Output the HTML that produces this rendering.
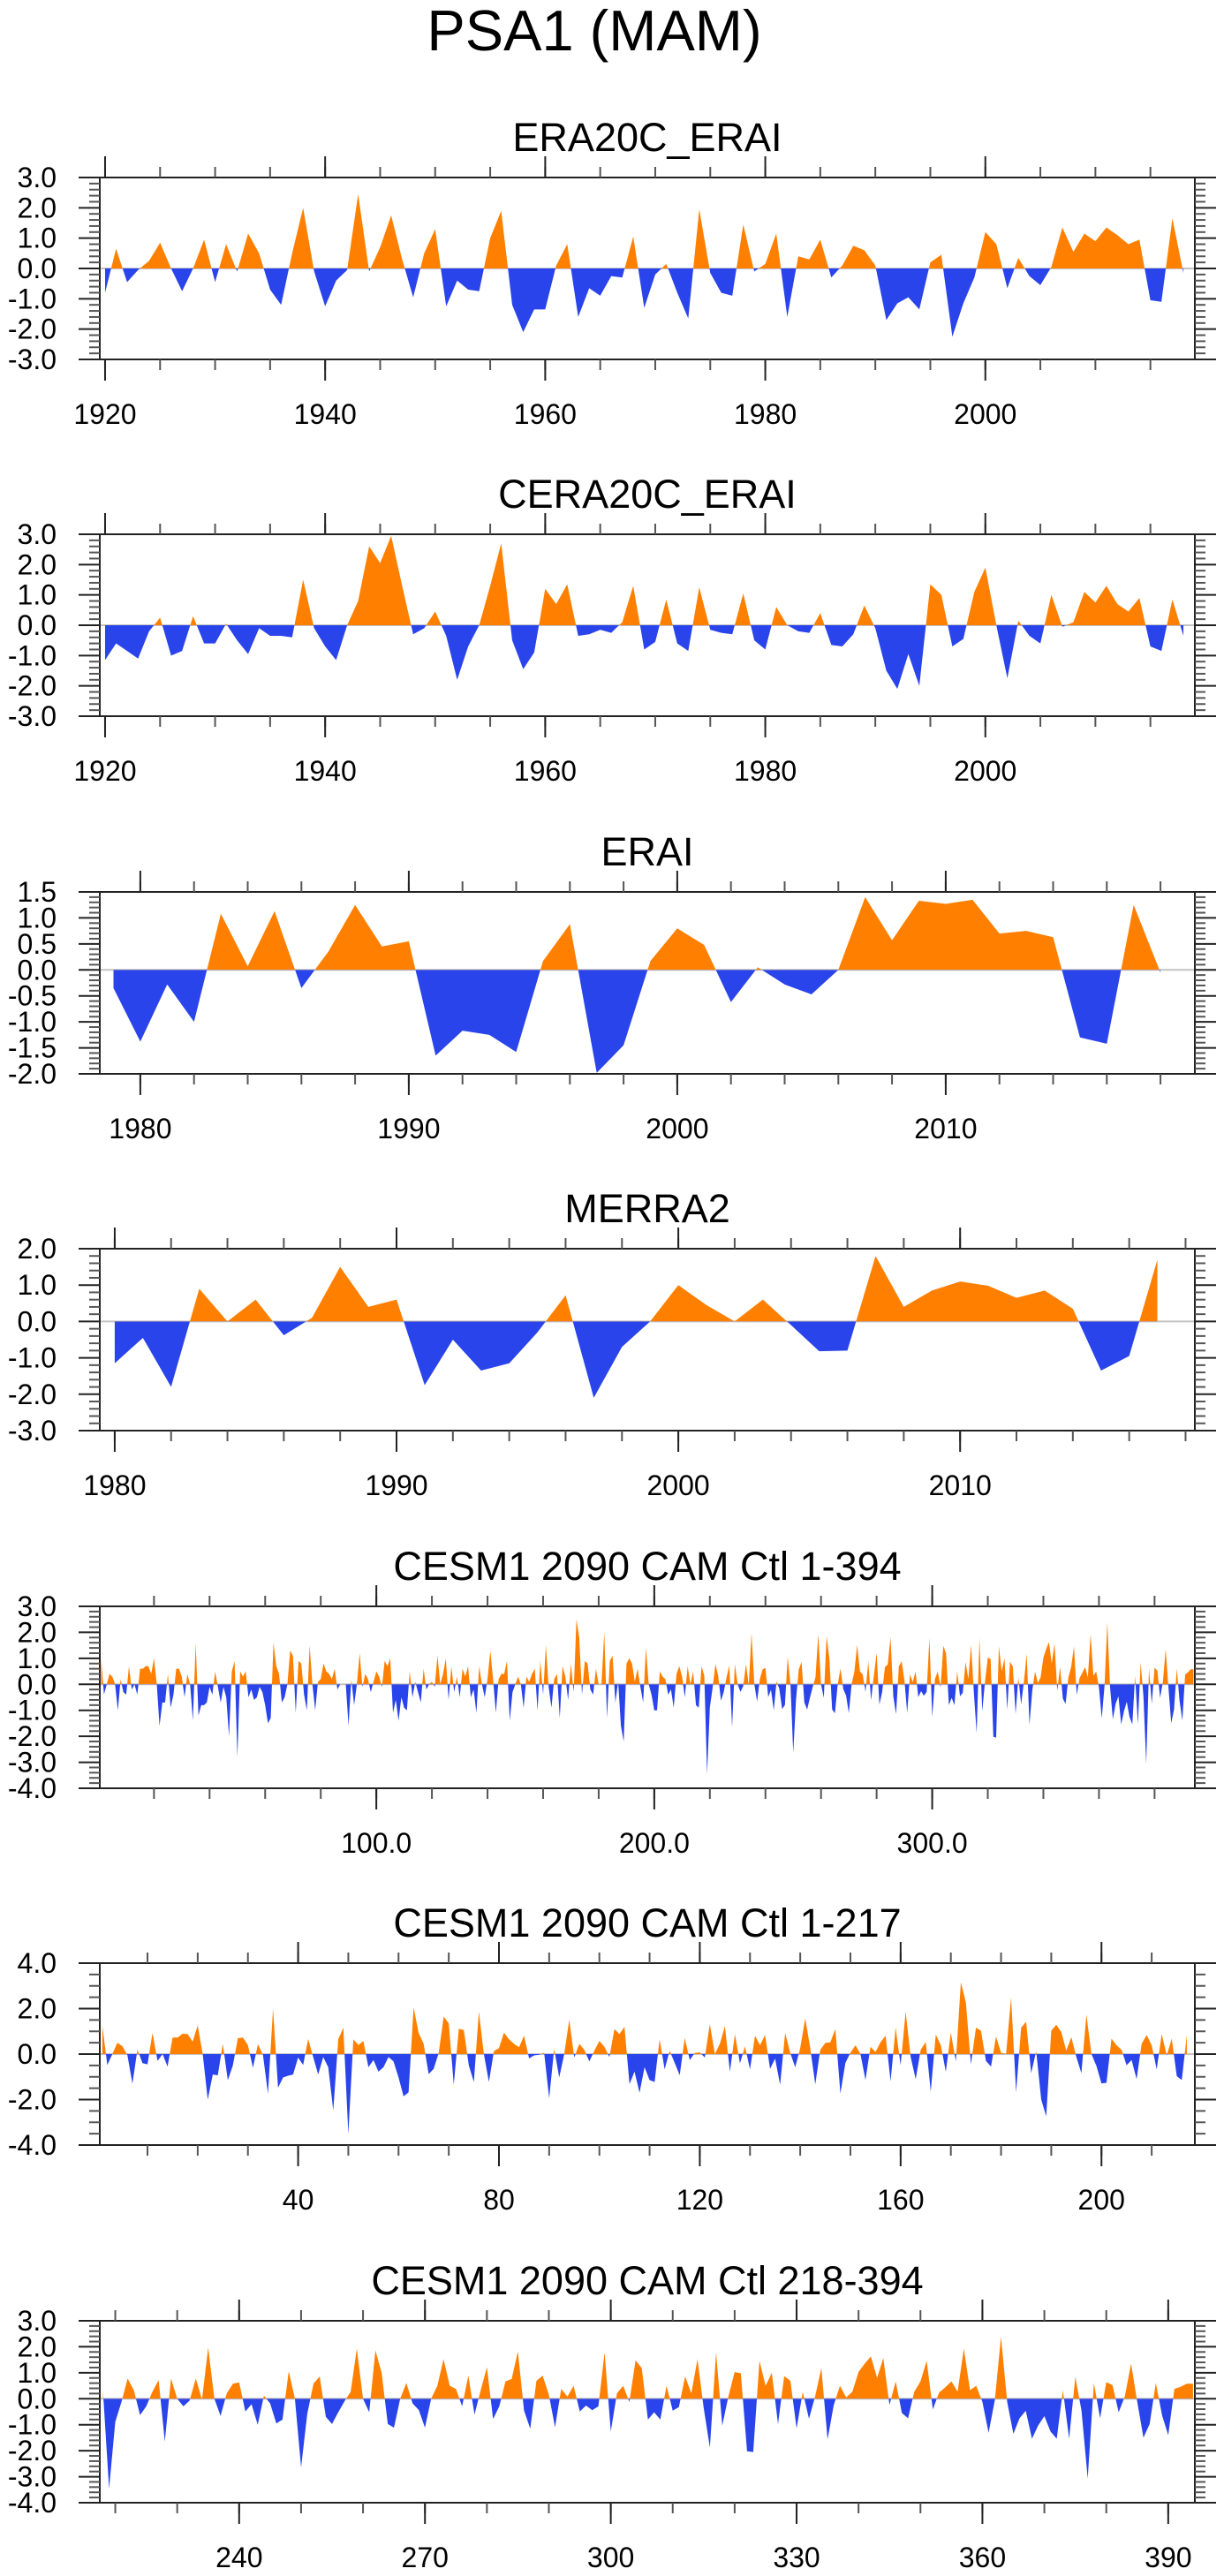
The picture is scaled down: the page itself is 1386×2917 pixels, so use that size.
<!DOCTYPE html>
<html><head><meta charset="utf-8"><title>PSA1 (MAM)</title>
<style>
html,body{margin:0;padding:0;background:#fff;}
svg{display:block;font-family:"Liberation Sans",Arial,sans-serif;}
</style></head>
<body>
<svg id="chart" width="1386" height="2917" viewBox="0 0 1386 2917" xmlns="http://www.w3.org/2000/svg">
<text x="673" y="57" font-size="65" text-anchor="middle" fill="#000">PSA1 (MAM)</text>
</svg>
<script>
// ---- data ----
const era20cStartYear = 1920;
const era20cValues = [-0.8,0.65,-0.45,-0.05,0.25,0.85,0.0,-0.75,0.0,0.95,-0.45,0.8,-0.1,1.15,0.5,-0.7,-1.2,0.5,2.0,-0.1,-1.25,-0.4,-0.05,2.45,-0.1,0.7,1.75,0.3,-0.95,0.5,1.3,-1.25,-0.4,-0.7,-0.75,1.0,1.9,-1.2,-2.1,-1.35,-1.35,0.1,0.8,-1.6,-0.65,-0.9,-0.25,-0.3,1.05,-1.3,-0.2,0.15,-0.8,-1.65,1.95,-0.15,-0.8,-0.9,1.45,-0.1,0.15,1.15,-1.6,0.4,0.3,0.95,-0.3,0.1,0.75,0.6,0.1,-1.7,-1.15,-0.95,-1.35,0.2,0.45,-2.25,-1.15,-0.3,1.2,0.8,-0.65,0.35,-0.25,-0.55,0.05,1.35,0.55,1.15,0.9,1.35,1.1,0.8,0.95,-1.05,-1.1,1.65,-0.15];
const cera20cStartYear = 1920;
const cera20cValues = [-1.15,-0.6,-0.85,-1.1,-0.2,0.25,-1.0,-0.85,0.3,-0.6,-0.6,0.05,-0.5,-0.95,-0.1,-0.35,-0.35,-0.4,1.5,-0.1,-0.7,-1.15,0.0,0.8,2.6,2.05,2.95,1.3,-0.3,-0.1,0.45,-0.35,-1.8,-0.7,0.0,1.3,2.7,-0.5,-1.45,-0.9,1.2,0.7,1.35,-0.35,-0.3,-0.15,-0.25,0.1,1.3,-0.8,-0.55,0.85,-0.6,-0.85,1.25,-0.15,-0.25,-0.3,1.05,-0.5,-0.8,0.6,0.0,-0.2,-0.25,0.4,-0.65,-0.7,-0.3,0.65,-0.1,-1.5,-2.1,-0.95,-2.0,1.35,1.0,-0.7,-0.45,1.1,1.9,0.0,-1.75,0.15,-0.35,-0.6,1.0,-0.05,0.1,1.1,0.75,1.3,0.7,0.45,0.9,-0.7,-0.85,0.85,-0.35];
const eraiStartYear = 1979;
const eraiValues = [-0.35,-1.38,-0.28,-1.0,1.08,0.07,1.13,-0.35,0.35,1.25,0.45,0.55,-1.65,-1.17,-1.25,-1.58,0.17,0.88,-1.98,-1.45,0.17,0.8,0.48,-0.62,0.05,-0.28,-0.47,0.0,1.4,0.57,1.33,1.27,1.35,0.7,0.75,0.63,-1.3,-1.42,1.25,-0.05];
const merra2StartYear = 1980;
const merra2Values = [-1.15,-0.45,-1.8,0.9,0.0,0.6,-0.38,0.1,1.5,0.4,0.6,-1.75,-0.5,-1.35,-1.15,-0.3,0.72,-2.1,-0.7,0.0,1.0,0.45,0.0,0.6,-0.1,-0.82,-0.8,1.8,0.4,0.85,1.1,0.98,0.65,0.85,0.35,-1.35,-0.95,1.7];
const cesmAllStart = 1;
const cesmAllValues = [1.0,-0.4,0,0.4,0.3,0,-1.0,0.2,-0.3,-0.4,0.7,-0.2,0,-0.4,0.6,0.6,0.7,0.7,0.4,1.0,0,-1.6,-0.7,-0.7,0.4,-0.9,-0.4,0.6,0.6,0.3,-0.5,0.4,0,-1.4,1.6,-1.2,-0.8,-0.8,-0.7,-0.1,-0.4,0.5,-0.1,-0.7,-0.1,-0.5,-2.0,0.5,0.9,-2.8,0.5,0.3,0.5,-0.5,-0.2,-0.6,-0.5,-0.1,-0.3,-0.8,-1.5,-1.3,1.6,0.7,0.4,-0.7,-0.5,0,1.3,1.1,-1.1,0.9,0.8,-0.4,-1.0,1.5,0,-1.0,0.1,0.2,0.8,0.5,0.4,0.2,0.6,-0.2,0,0,0,-1.6,0.2,-0.8,0,1.2,-0.1,0.4,0.2,-0.3,0.1,0.5,0.3,-0.1,0.9,0.7,1.0,-1.1,-0.6,-1.4,-0.5,-0.9,-1.0,0.5,-0.5,0.1,-0.3,-0.7,0.6,-0.2,0,0.1,-0.1,1.1,0,0.4,1.0,-0.6,0.7,-0.3,0.3,-0.5,0.6,0.3,0.7,-0.5,-0.2,-1.1,0.7,0,-0.5,0.2,1.3,0.2,-1.1,0.2,0.4,0.4,0.9,-1.4,-0.3,0,0.3,0,-0.9,0.3,0.1,0.4,0.6,-1.0,0.9,-0.4,1.5,-0.1,-0.9,0.2,0.4,-1.3,0.7,0.3,-0.6,0.8,-0.3,2.5,1.8,-0.4,0.9,0.8,-0.2,-0.4,0.6,0,0,2.0,-1.3,0.9,1.1,-0.7,0.1,-1.6,-2.2,0.8,1.0,0.8,0.1,0.6,-0.1,-0.7,1.4,0,-0.4,-1.0,-1.0,0.5,0.3,0.2,-0.4,-0.2,-0.9,0.4,0.7,0.3,-0.5,0.7,0,0.5,-0.8,-0.9,0.7,
0.33,-3.46,-0.89,-0.12,0.78,0.33,-0.63,-0.29,0.27,0.72,-1.65,0.78,0.0,-0.29,-0.07,0.78,-0.03,1.97,0,-0.66,0.21,0.58,0.63,-0.49,-0.21,-1.0,0.12,-0.18,-0.95,-0.8,1.06,0,-2.64,-0.58,0.58,0.86,-0.7,-0.97,-0.52,-0.1,0.27,1.93,0.0,-0.52,1.86,1.0,-0.97,-1.11,0,0.61,-0.18,-0.43,-1.11,0,0.5,1.52,0.5,0.38,-0.29,0.89,-0.61,0.33,1.21,-0.78,-0.29,0.67,0.76,1.82,-0.46,-1.15,0.69,0.89,0.16,-1.1,0.38,0.08,0.5,-0.49,-0.26,-0.44,-0.29,1.78,-1.26,0.21,0.5,-0.12,1.48,1.18,-0.8,-0.52,-0.8,0.5,-0.46,-0.32,0.86,0.21,1.52,-0.35,-1.88,1.78,-1.03,0.1,1.03,0.98,-2.02,-2.05,1.46,0.5,1.0,-0.97,0.87,0.69,-1.14,0.27,-0.77,0.1,1.18,-1.56,-0.24,0.5,0.05,0.27,1.03,1.35,1.63,0.8,1.57,-0.24,0.67,-0.55,-0.75,0.27,0.67,1.46,-0.41,0.24,0.44,0.67,0.27,1.93,0.33,0.5,-0.12,-1.31,-0.06,2.39,-0.12,-1.35,-0.75,-0.46,-1.54,-1.03,-0.67,-1.26,-1.54,0.33,-1.54,0.84,-0.46,-3.07,0.61,-0.75,0.64,0.53,-0.52,0.1,1.35,-0.12,-1.5,-0.97,0.61,-0.63,-1.4,0.38,0.46,0.58,0.58];
const cesmFirstStart = 1;
const cesmFirstValues = [1.26,-0.48,0,0.5,0.35,-0.05,-1.3,0.2,-0.4,-0.45,0.93,-0.3,0,-0.55,0.73,0.73,0.9,0.88,0.55,1.26,0,-2.0,-0.9,-0.93,0.45,-1.15,-0.5,0.7,0.73,0.4,-0.6,0.44,-0.04,-1.75,2.0,-1.48,-1.03,-0.95,-0.9,-0.15,-0.48,0.67,-0.13,-0.9,-0.13,-0.58,-2.48,0.65,1.16,-3.52,0.65,0.4,0.58,-0.58,-0.26,-0.77,-0.58,-0.13,-0.32,-1.03,-1.86,-1.68,2.06,0.93,0.45,-0.88,-0.65,0.05,1.65,1.35,-1.35,1.11,1.06,-0.5,-1.23,1.87,0,-1.23,0.13,0.26,0.94,0.65,0.45,0.3,0.81,-0.19,-0.06,-0.03,0.06,-1.94,0.23,-1.03,0,1.51,-0.15,0.45,0.19,-0.32,0.15,0.58,0.32,-0.13,1.1,0.88,1.2,-1.32,-0.77,-1.7,-0.58,-1.14,-1.23,0.65,-0.67,0.15,-0.39,-0.93,0.71,-0.26,0.05,0.08,-0.15,1.32,0,0.45,1.23,-0.77,0.88,-0.41,0.34,-0.67,0.8,0.39,0.84,-0.65,-0.2,-1.35,0.93,0.06,-0.58,0.26,1.57,0.26,-1.33,0.19,0.49,0.52,1.1,-1.74,-0.39,0.06,0.39,0,-1.14,0.32,0.09,0.52,0.81,-1.2,1.16,-0.49,1.87,-0.13,-1.1,0.19,0.54,-1.65,0.86,0.39,-0.77,0.94,-0.32,3.16,2.26,-0.45,1.16,1.03,-0.3,-0.55,0.77,0.06,0,2.49,-1.68,1.16,1.42,-0.84,0.13,-2.0,-2.74,1.03,1.29,0.97,0.15,0.75,-0.13,-0.84,1.74,0,-0.52,-1.29,-1.26,0.68,0.39,0.19,-0.49,-0.26,-1.1,0.45,0.84,0.39,-0.67,0.88,-0.06,0.68,-0.97,-1.14,0.84];
const cesmSecondStart = 218;
const cesmSecondValues = [0.33,-3.46,-0.89,-0.12,0.78,0.33,-0.63,-0.29,0.27,0.72,-1.65,0.78,0.0,-0.29,-0.07,0.78,-0.03,1.97,0,-0.66,0.21,0.58,0.63,-0.49,-0.21,-1.0,0.12,-0.18,-0.95,-0.8,1.06,0,-2.64,-0.58,0.58,0.86,-0.7,-0.97,-0.52,-0.1,0.27,1.93,0.0,-0.52,1.86,1.0,-0.97,-1.11,0,0.61,-0.18,-0.43,-1.11,0,0.5,1.52,0.5,0.38,-0.29,0.89,-0.61,0.33,1.21,-0.78,-0.29,0.67,0.76,1.82,-0.46,-1.15,0.69,0.89,0.16,-1.1,0.38,0.08,0.5,-0.49,-0.26,-0.44,-0.29,1.78,-1.26,0.21,0.5,-0.12,1.48,1.18,-0.8,-0.52,-0.8,0.5,-0.46,-0.32,0.86,0.21,1.52,-0.35,-1.88,1.78,-1.03,0.1,1.03,0.98,-2.02,-2.05,1.46,0.5,1.0,-0.97,0.87,0.69,-1.14,0.27,-0.77,0.1,1.18,-1.56,-0.24,0.5,0.05,0.27,1.03,1.35,1.63,0.8,1.57,-0.24,0.67,-0.55,-0.75,0.27,0.67,1.46,-0.41,0.24,0.44,0.67,0.27,1.93,0.33,0.5,-0.12,-1.31,-0.06,2.39,-0.12,-1.35,-0.75,-0.46,-1.54,-1.03,-0.67,-1.26,-1.54,0.33,-1.54,0.84,-0.46,-3.07,0.61,-0.75,0.64,0.53,-0.52,0.1,1.35,-0.12,-1.5,-0.97,0.61,-0.63,-1.4,0.38,0.46,0.58,0.58];

// tick label arrays
const yearTicks1920 = [1920,1940,1960,1980,2000];
const yearTicks1980 = [1980,1990,2000,2010];
const cesmAllTicks = [100,200,300];
const cesmAllTickLabels = ["100.0","200.0","300.0"];
const cesmFirstTicks = [40,80,120,160,200];
const cesmSecondTicks = [240,270,300,330,360,390];

// ---- drawing ----
const NS = "http://www.w3.org/2000/svg";
const svg = document.getElementById('chart');
const L = 113, R = 1353, H = 206;
const ORANGE = "#ff8000", BLUE = "#2a44ec";
function mk(tag, attrs, parent){
  const e = document.createElementNS(NS, tag);
  for (const k in attrs) e.setAttribute(k, attrs[k]);
  (parent || svg).appendChild(e);
  return e;
}
let clipId = 0;
function panel(o){
  const g = mk('g', {});
  
  
  const top = o.top, bot = top + H;
  const xs = v => L + (v - o.xmin) / (o.xmax - o.xmin) * (R - L);
  const ys = v => top + (o.ymax - v) / (o.ymax - o.ymin) * H;
  const t = mk('text', {x: 733, y: top - 30, 'font-size': 45, 'text-anchor': 'middle', fill: '#000'}, g);
  t.textContent = o.title;
  
  
  const y0 = ys(0);
  const zl = mk('line', {x1: L, x2: R, y1: y0, y2: y0, stroke: '#c4c4c4', 'stroke-width': 2}, g);
  
  
  let d = 'M' + xs(o.start).toFixed(2) + ',' + y0.toFixed(2);
  o.vals.forEach((v, i) => { d += 'L' + xs(o.start + i).toFixed(2) + ',' + ys(v).toFixed(2); });
  d += 'L' + xs(o.start + o.vals.length - 1).toFixed(2) + ',' + y0.toFixed(2) + 'Z';
  const cu = 'cu' + (++clipId), cd = 'cd' + clipId;
  const c1 = mk('clipPath', {id: cu}, g); mk('rect', {x: 0, y: top - 5, width: 1386, height: y0 - top + 5}, c1);
  const c2 = mk('clipPath', {id: cd}, g); mk('rect', {x: 0, y: y0, width: 1386, height: bot - y0 + 5}, c2);
  const pos = mk('path', {d: d, fill: ORANGE, 'clip-path': 'url(#' + cu + ')'}, g);
  
  
  const neg = mk('path', {d: d, fill: BLUE, 'clip-path': 'url(#' + cd + ')'}, g);
  
  
  // frame
  const fr = mk('rect', {x: L, y: top, width: R - L, height: H, fill: 'none', stroke: '#222', 'stroke-width': 2}, g);
  
  
  // y ticks
  const nMin = Math.round((o.ymax - o.ymin) / o.yMinor);
  for (let k = 0; k <= nMin; k++){
    const v = o.ymin + k * o.yMinor;
    const isMaj = Math.abs(v / o.yMajor - Math.round(v / o.yMajor)) < 1e-6;
    const len = isMaj ? 24 : 12, yy = ys(v);
    mk('line', {x1: L - len, x2: L, y1: yy, y2: yy, stroke: isMaj ? '#222' : '#555', 'stroke-width': 2}, g);
    mk('line', {x1: R, x2: R + len, y1: yy, y2: yy, stroke: isMaj ? '#222' : '#555', 'stroke-width': 2}, g);
    if (isMaj){
      const tl = mk('text', {x: 64, y: yy + 11, 'font-size': 32, 'text-anchor': 'end', fill: '#000'}, g);
      tl.textContent = v.toFixed(1);
      
      
    }
  }
  // x minor ticks
  for (let v = Math.ceil(o.xmin / o.xMinor) * o.xMinor; v <= o.xmax; v += o.xMinor){
    const xx = xs(v);
    mk('line', {x1: xx, x2: xx, y1: top - 12, y2: top, stroke: '#555', 'stroke-width': 2}, g);
    mk('line', {x1: xx, x2: xx, y1: bot, y2: bot + 12, stroke: '#555', 'stroke-width': 2}, g);
  }
  o.xTicks.forEach((v, i) => {
    const xx = xs(v);
    mk('line', {x1: xx, x2: xx, y1: top - 24, y2: top, stroke: '#222', 'stroke-width': 2}, g);
    mk('line', {x1: xx, x2: xx, y1: bot, y2: bot + 24, stroke: '#222', 'stroke-width': 2}, g);
    const tl = mk('text', {x: xx, y: bot + 73, 'font-size': 32, 'text-anchor': 'middle', fill: '#000'}, g);
    tl.textContent = o.xLabels ? o.xLabels[i] : String(v);
    
    
  });
}
panel({name:'panel-era20c-erai', title:'ERA20C_ERAI', top:201, xmin:1919.52, xmax:2019.04, ymin:-3, ymax:3, yMajor:1, yMinor:0.2, start:era20cStartYear, vals:era20cValues, xTicks:yearTicks1920, xMinor:5});
panel({name:'panel-cera20c-erai', title:'CERA20C_ERAI', top:605, xmin:1919.52, xmax:2019.04, ymin:-3, ymax:3, yMajor:1, yMinor:0.2, start:cera20cStartYear, vals:cera20cValues, xTicks:yearTicks1920, xMinor:5});
panel({name:'panel-erai', title:'ERAI', top:1010, xmin:1978.49, xmax:2019.28, ymin:-2, ymax:1.5, yMajor:0.5, yMinor:0.1, start:eraiStartYear, vals:eraiValues, xTicks:yearTicks1980, xMinor:2});
panel({name:'panel-merra2', title:'MERRA2', top:1414, xmin:1979.47, xmax:2018.33, ymin:-3, ymax:2, yMajor:1, yMinor:0.2, start:merra2StartYear, vals:merra2Values, xTicks:yearTicks1980, xMinor:2});
panel({name:'panel-cesm-1-394', title:'CESM1 2090 CAM Ctl 1-394', top:1819, xmin:0.5, xmax:394.5, ymin:-4, ymax:3, yMajor:1, yMinor:0.2, start:cesmAllStart, vals:cesmAllValues, xTicks:cesmAllTicks, xLabels:cesmAllTickLabels, xMinor:20});
panel({name:'panel-cesm-1-217', title:'CESM1 2090 CAM Ctl 1-217', top:2223, xmin:0.5, xmax:218.6, ymin:-4, ymax:4, yMajor:2, yMinor:0.5, start:cesmFirstStart, vals:cesmFirstValues, xTicks:cesmFirstTicks, xMinor:10});
panel({name:'panel-cesm-218-394', title:'CESM1 2090 CAM Ctl 218-394', top:2628, xmin:217.5, xmax:394.3, ymin:-4, ymax:3, yMajor:1, yMinor:0.2, start:cesmSecondStart, vals:cesmSecondValues, xTicks:cesmSecondTicks, xMinor:10});
</script>
</body></html>
